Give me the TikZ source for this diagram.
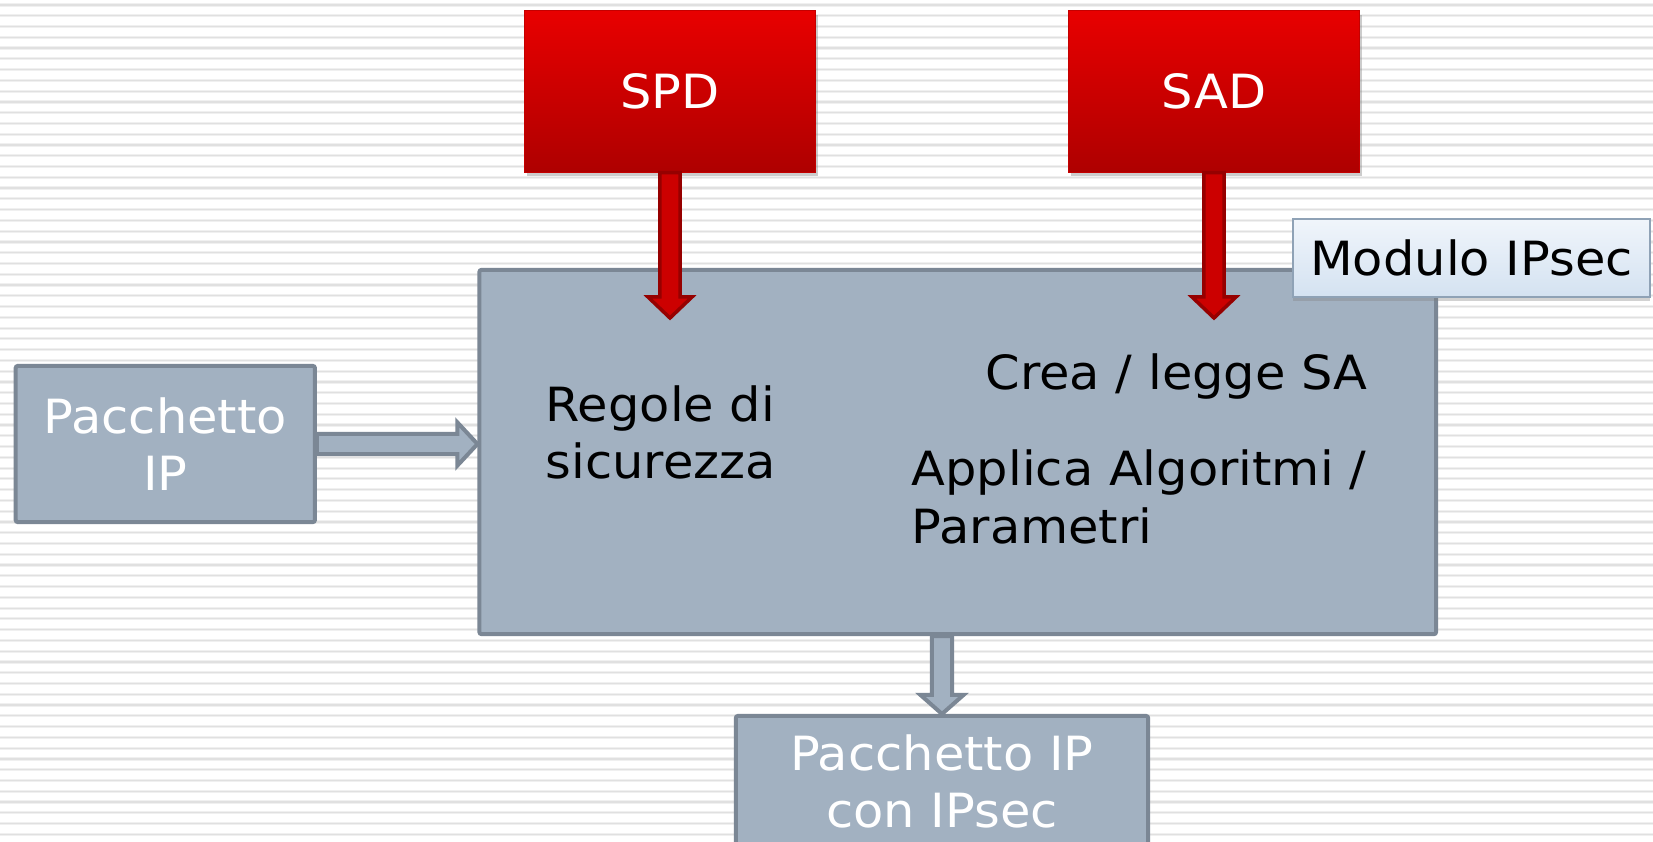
\documentclass[tikz,border=0pt]{standalone}
\usepackage{fontspec}
\setmainfont{DejaVu Sans}[FakeStretch=1.05]
\usetikzlibrary{calc,shadows}
\definecolor{boxfill}{HTML}{A2B1C1}
\definecolor{boxline}{HTML}{7B8795}
\definecolor{redtop}{HTML}{E80000}
\definecolor{redbot}{HTML}{AE0000}
\definecolor{redline}{HTML}{C40000}
\definecolor{arrowred}{HTML}{CC0000}
\definecolor{arrowdark}{HTML}{960000}
\definecolor{lbtop}{HTML}{F0F5FB}
\definecolor{lbbot}{HTML}{D4E2F1}
\definecolor{lbline}{HTML}{8FA2B6}
\definecolor{stripehalo}{HTML}{F0F0F0}
\definecolor{stripecore}{HTML}{E0E0E0}
\tikzset{
  txt/.style={font=\fontsize{13.4}{16.2}\selectfont, inner sep=0pt, text=black},
  graybox/.style={draw=boxline, fill=boxfill, line width=0.04cm, rounded corners=0.02cm,
    text=white, align=center, font=\fontsize{13.4}{16.4}\selectfont, inner sep=0pt},
  redbox/.style={draw=redline, line width=0.01cm, top color=redtop, bottom color=redbot,
    text=white, font=\fontsize{13.4}{16.2}\selectfont, inner sep=0pt,
    minimum width=2.9cm, minimum height=1.615cm,
    drop shadow={opacity=0.4, shadow xshift=0.025cm, shadow yshift=-0.04cm}},
  labelbox/.style={draw=lbline, line width=0.015cm, top color=lbtop, bottom color=lbbot,
    text=black, font=\fontsize{13.4}{16.2}\selectfont, inner sep=0pt,
    drop shadow={opacity=0.35, shadow xshift=0.0cm, shadow yshift=-0.04cm}},
  grayarrow/.style={draw=boxline, fill=boxfill, line width=0.04cm, line join=miter},
  redarrow/.style={draw=arrowdark, fill=arrowred, line width=0.035cm, line join=miter},
  stripehaloline/.style={draw=stripehalo, line width=0.032cm},
  stripecoreline/.style={draw=stripecore, line width=0.012cm},
}
\begin{document}
\begin{tikzpicture}[x=0.01cm, y=-0.01cm]
\useasboundingbox (0,0) rectangle (1653,842);
\fill[white] (0,0) rectangle (1653,842);
\foreach \k in {0,...,78} {
  \draw[stripehaloline] (0,{5+10.77*\k}) -- (1653,{5+10.77*\k});
  \draw[stripecoreline] (0,{5+10.77*\k}) -- (1653,{5+10.77*\k});
}
% boxes
\node[graybox, minimum width=9.56cm, minimum height=3.64cm] (main) at (957.75,452) {};
\node[graybox, minimum width=2.99cm, minimum height=1.56cm] (pk) at (165.3,444) {Pacchetto\\IP};
\node[graybox, minimum width=4.12cm, minimum height=1.31cm] (out) at (942,781.5) {Pacchetto IP\\con IPsec};
\node[redbox] (spd) at (670,91.3) {SPD};
\node[redbox] (sad) at (1214,91.3) {SAD};
\node[labelbox, minimum width=3.57cm, minimum height=0.78cm] (mod) at (1471.5,258) {Modulo IPsec};
% texts inside main box
\node[txt, anchor=base west] (r1) at (545,421.7) {Regole di};
\node[txt, anchor=base west] (r2) at (545,478) {sicurezza};
\node[txt, anchor=base west] (c1) at (985,389) {Crea / legge SA};
\node[txt, anchor=base west] (a1) at (911,485.7) {Applica Algoritmi /};
\node[txt, anchor=base west] (a2) at (911,543) {Parametri};
% arrow tips
\coordinate (spdtip) at (670,318);
\coordinate (sadtip) at (1214,318);
% red arrows
\draw[redarrow] let \p1=(spd.south), \p2=(spdtip) in
  (\x1-0.1cm,\y1) -- (\x1-0.1cm,\y2+0.21cm) -- (\x1-0.22cm,\y2+0.21cm) -- (\x1,\y2)
  -- (\x1+0.22cm,\y2+0.21cm) -- (\x1+0.1cm,\y2+0.21cm) -- (\x1+0.1cm,\y1) -- cycle;
\draw[redarrow] let \p1=(sad.south), \p2=(sadtip) in
  (\x1-0.1cm,\y1) -- (\x1-0.1cm,\y2+0.21cm) -- (\x1-0.22cm,\y2+0.21cm) -- (\x1,\y2)
  -- (\x1+0.22cm,\y2+0.21cm) -- (\x1+0.1cm,\y2+0.21cm) -- (\x1+0.1cm,\y1) -- cycle;
% gray arrows
\draw[grayarrow] let \p1=(pk.east), \p2=(main.west) in
  (\x1,\y1+0.1cm) -- (\x2-0.2cm,\y1+0.1cm) -- (\x2-0.2cm,\y1+0.215cm) -- (\x2,\y1)
  -- (\x2-0.2cm,\y1-0.215cm) -- (\x2-0.2cm,\y1-0.1cm) -- (\x1,\y1-0.1cm) -- cycle;
\draw[grayarrow] let \p1=(main.south -| out.north), \p2=(out.north) in
  (\x1-0.1cm,\y1) -- (\x1-0.1cm,\y2+0.19cm) -- (\x1-0.215cm,\y2+0.19cm) -- (\x1,\y2)
  -- (\x1+0.215cm,\y2+0.19cm) -- (\x1+0.1cm,\y2+0.19cm) -- (\x1+0.1cm,\y1) -- cycle;
\end{tikzpicture}
\end{document}
